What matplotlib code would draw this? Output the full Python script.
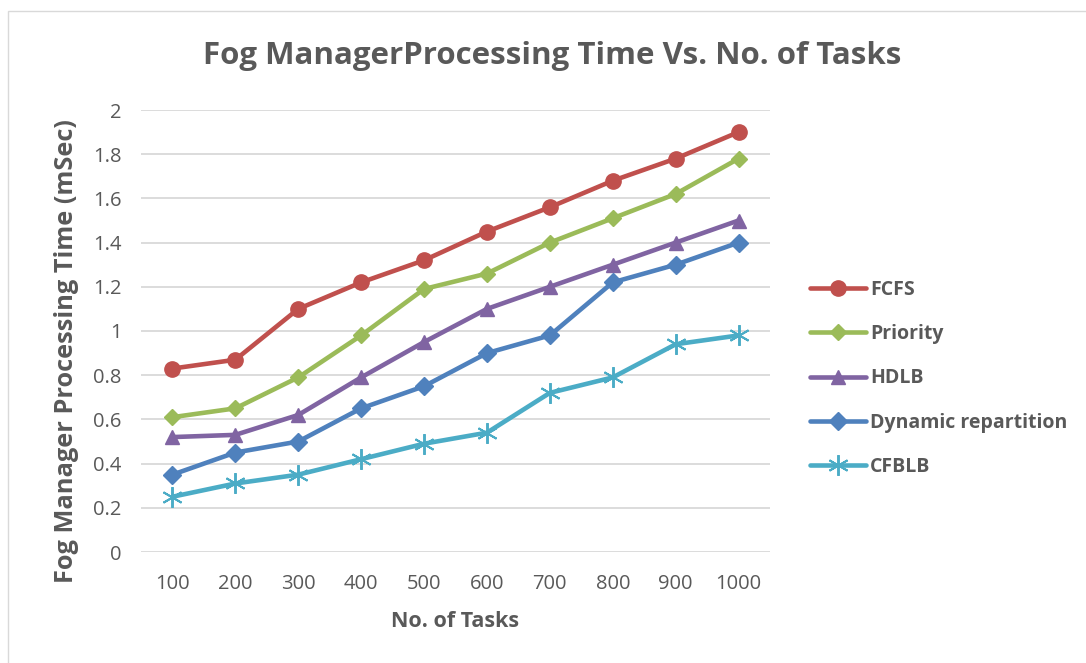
import numpy as np
import matplotlib
matplotlib.use('Agg')
import matplotlib.pyplot as plt
from matplotlib.patches import Rectangle

plt.rcParams['font.family'] = ['Open Sans', 'DejaVu Sans']

### DATA ######################################################################
tasks = ['100', '200', '300', '400', '500', '600', '700', '800', '900', '1000']
fcfs     = [0.83, 0.87, 1.10, 1.22, 1.32, 1.45, 1.56, 1.68, 1.78, 1.90]
priority = [0.61, 0.65, 0.79, 0.98, 1.19, 1.26, 1.40, 1.51, 1.62, 1.78]
hdlb     = [0.52, 0.53, 0.62, 0.79, 0.95, 1.10, 1.20, 1.30, 1.40, 1.50]
dynamic  = [0.35, 0.45, 0.50, 0.65, 0.75, 0.90, 0.98, 1.22, 1.30, 1.40]
cfblb    = [0.25, 0.31, 0.35, 0.42, 0.49, 0.54, 0.72, 0.79, 0.94, 0.98]
yticks   = [0, 0.2, 0.4, 0.6, 0.8, 1, 1.2, 1.4, 1.6, 1.8, 2]
ytick_labels = ['0', '0.2', '0.4', '0.6', '0.8', '1', '1.2', '1.4', '1.6', '1.8', '2']
###############################################################################

txt = '#595959'
series = [('FCFS', fcfs, '#C0504D', 'o', 11),
          ('Priority', priority, '#9BBB59', 'D', 8),
          ('HDLB', hdlb, '#8064A2', '^', 10),
          ('Dynamic repartition', dynamic, '#4F81BD', 'D', 9.5),
          ('CFBLB', cfblb, '#4BACC6', (6, 2, 0), 15)]

fig = plt.figure(figsize=(10.86, 6.63), dpi=100)
fig.patches.append(Rectangle((8/1086, -0.1), 1.2, 1 - 11/663 + 0.1, transform=fig.transFigure,
                             fill=False, edgecolor='#D9D9D9', linewidth=1))
ax = fig.add_axes([141/1086, 1 - 552/663, 629/1086, 442/663])

x = np.arange(len(tasks))
for name, vals, col, mk, ms in series:
    mew = 1.4 if isinstance(mk, tuple) else 1
    ax.plot(x, vals, color=col, linewidth=3.3, marker=mk, markersize=ms,
            markeredgewidth=mew, markeredgecolor=col, label=name, solid_capstyle='round')

ax.set_xlim(-0.5, len(tasks) - 0.5)
ax.set_ylim(0, 2)
ax.set_xticks(x)
ax.set_xticklabels(tasks)
ax.set_yticks(yticks)
ax.set_yticklabels(ytick_labels)
ax.grid(axis='y', color='#D9D9D9', linewidth=1.3)
ax.set_axisbelow(True)
for s in ax.spines.values():
    s.set_visible(False)
ax.tick_params(length=0, labelsize=14.5, colors=txt)
ax.tick_params(axis='y', pad=14)
ax.tick_params(axis='x', pad=16)

ax.set_xlabel('No. of Tasks', fontsize=15.5, fontweight='bold', color=txt, labelpad=12)
ax.set_ylabel('Fog Manager Processing Time (mSec)', fontsize=18.3, fontweight='bold', color=txt)
ax.yaxis.set_label_coords(-(141 - 79) / 629, (552 - 351) / 442)
fig.text(552/1086, 1 - 56/663, 'Fog ManagerProcessing Time Vs. No. of Tasks', ha='center', va='center',
         fontsize=22.5, fontweight='bold', color=txt)

leg = ax.legend(loc='upper left', bbox_to_anchor=((802 - 141) / 629, (552 - 272) / 442), frameon=False,
                fontsize=14, handlelength=2.9, labelspacing=1.25, handletextpad=0.2, borderaxespad=0)
for t in leg.get_texts():
    t.set_color(txt)
    t.set_fontweight('bold')

fig.savefig('out.png', dpi=100)
